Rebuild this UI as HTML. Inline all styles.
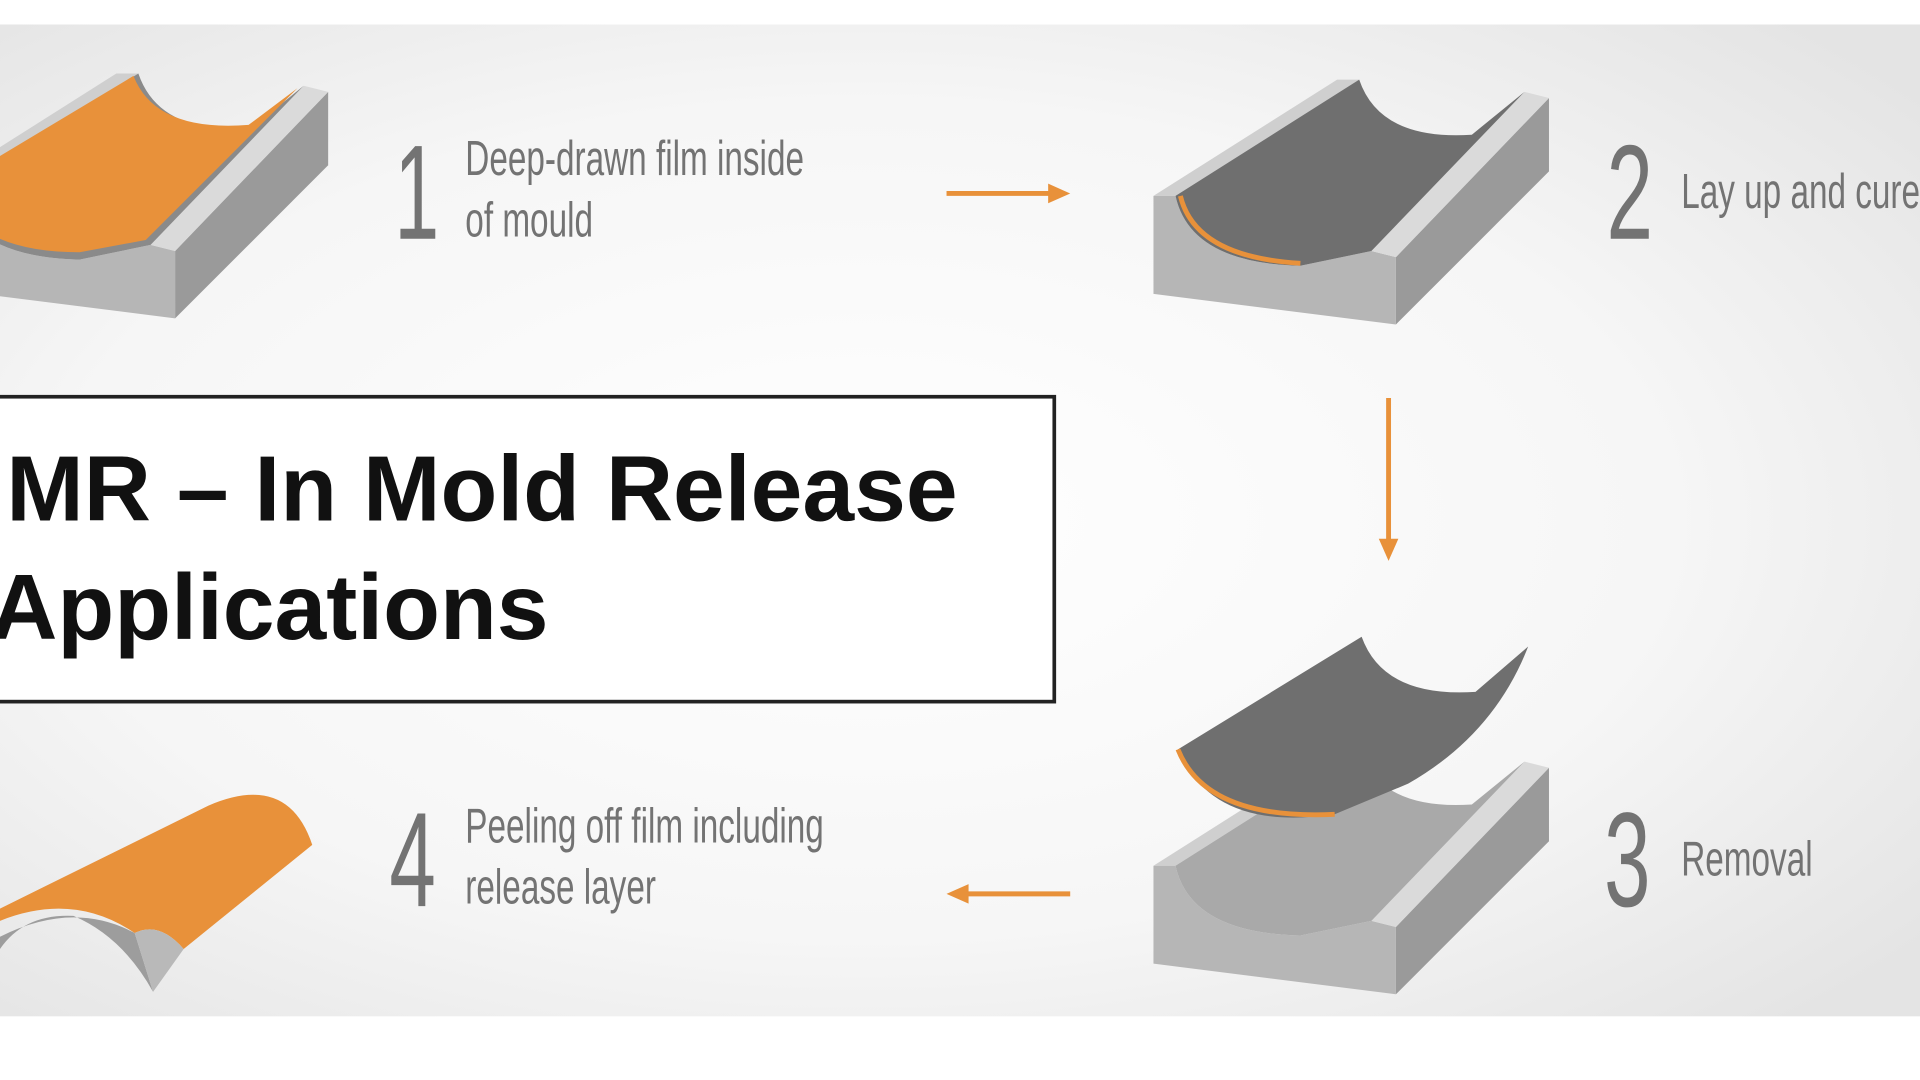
<!DOCTYPE html>
<html><head><meta charset="utf-8"><style>
html,body{margin:0;padding:0;background:#fff;}
svg{display:block}
</style></head><body>
<svg width="1920" height="1080" viewBox="0 0 1568 882" xmlns="http://www.w3.org/2000/svg">
<defs>
<radialGradient id="bg" cx="0.45" cy="0.5" r="0.7">
<stop offset="0" stop-color="#ffffff"/><stop offset="0.6" stop-color="#f6f6f6"/><stop offset="1" stop-color="#e4e4e4"/>
</radialGradient>
<g id="mould">
<path d="M0,95 L150,0 L168,0 L18,95 Z" fill="#cfcfcf"/>
<path d="M198,145 L323,15 L323,75 L198,200 Z" fill="#9a9a9a"/>
<path d="M0,95 L18,95 Q30,150 120,152 L178,140 L198,145 L198,200 L0,175 Z" fill="#b6b6b6"/>
<path d="M178,140 L303,10 L323,15 L198,145 Z" fill="#dadada"/>
</g>
</defs>
<rect width="1568" height="882" fill="#fff"/>
<rect x="0" y="20" width="1568" height="810" fill="url(#bg)"/>

<!-- mould 1 -->
<g transform="translate(-55,60)">
<use href="#mould"/>
<path d="M18,95 L168,0 Q185,50 260,45 L303,10 L178,140 L120,152 Q30,150 18,95 Z" fill="#8a8a8a"/>
<path d="M14,92 L164,2 Q182,48 258,42 L298,12 L174,136 L120,146 Q32,146 14,92 Z" fill="#e8913a"/>
</g>
<!-- mould 2 -->
<g transform="translate(942,65)">
<use href="#mould"/>
<path d="M18,95 L168,0 Q185,50 260,45 L303,10 L178,140 L120,152 Q30,150 18,95 Z" fill="#6f6f6f"/>
<path d="M22,95 Q34,145 120,150" stroke="#e8913a" stroke-width="4" fill="none"/>
</g>
<!-- mould 3 -->
<g transform="translate(942,612)">
<use href="#mould"/>
<path d="M18,95 L168,0 Q185,50 260,45 L303,10 L178,140 L120,152 Q30,150 18,95 Z" fill="#a9a9a9"/>
</g>
<!-- flying part -->
<path d="M962,612 L1112,520 Q1130,570 1205,565 L1248,528 Q1220,600 1150,640 L1090,665 Q990,680 962,612 Z" fill="#6f6f6f"/>
<path d="M962,612 Q985,670 1090,665" stroke="#e8913a" stroke-width="4" fill="none"/>

<!-- peeled film -->
<path d="M0,765 Q60,735 110,762 L125,810 Q100,765 60,748 Q20,746 0,775 Z" fill="#9d9d9d"/>
<path d="M0,742 L170,658 Q235,630 255,690 L150,775 Q130,752 110,762 Q60,728 0,752 Z" fill="#e8913a"/>
<path d="M150,775 L125,810 L110,762 Q130,752 150,775 Z" fill="#b9b9b9"/>

<!-- title box -->
<rect x="-10" y="324" width="871" height="249" fill="#fff" stroke="#222" stroke-width="3"/>
<text x="-16" y="425" font-family="Liberation Sans, sans-serif" font-weight="bold" font-size="76" fill="#111">IMR – In Mold Release</text>
<text x="-8" y="522" font-family="Liberation Sans, sans-serif" font-weight="bold" font-size="76" fill="#111">Applications</text>

<g font-family="Liberation Sans, sans-serif" fill="#737373">
<text x="322" y="195" font-size="110" transform="translate(322,195) scale(0.6,1) translate(-322,-195)">1</text>
<text x="380" y="143" font-size="40" transform="translate(380,143) scale(0.68,1) translate(-380,-143)">Deep-drawn film inside</text>
<text x="380" y="193" font-size="40" transform="translate(380,193) scale(0.68,1) translate(-380,-193)">of mould</text>
<text x="1312" y="195" font-size="110" transform="translate(1312,195) scale(0.62,1) translate(-1312,-195)">2</text>
<text x="1373" y="170" font-size="40" transform="translate(1373,170) scale(0.68,1) translate(-1373,-170)">Lay up and cure</text>
<text x="1310" y="740" font-size="110" transform="translate(1310,740) scale(0.62,1) translate(-1310,-740)">3</text>
<text x="1373" y="715" font-size="40" transform="translate(1373,715) scale(0.68,1) translate(-1373,-715)">Removal</text>
<text x="318" y="740" font-size="110" transform="translate(318,740) scale(0.62,1) translate(-318,-740)">4</text>
<text x="380" y="688" font-size="40" transform="translate(380,688) scale(0.68,1) translate(-380,-688)">Peeling off film including</text>
<text x="380" y="738" font-size="40" transform="translate(380,738) scale(0.68,1) translate(-380,-738)">release layer</text>
</g>

<!-- arrows -->
<g stroke="#e8913a" stroke-width="4" fill="#e8913a">
<line x1="773" y1="158" x2="862" y2="158"/>
<path d="M874,158 L856,150 L856,166 Z" stroke="none"/>
<line x1="1134" y1="325" x2="1134" y2="445"/>
<path d="M1134,458 L1126,440 L1142,440 Z" stroke="none"/>
<line x1="786" y1="730" x2="874" y2="730"/>
<path d="M773,730 L791,722 L791,738 Z" stroke="none"/>
</g>
</svg>
</body></html>
